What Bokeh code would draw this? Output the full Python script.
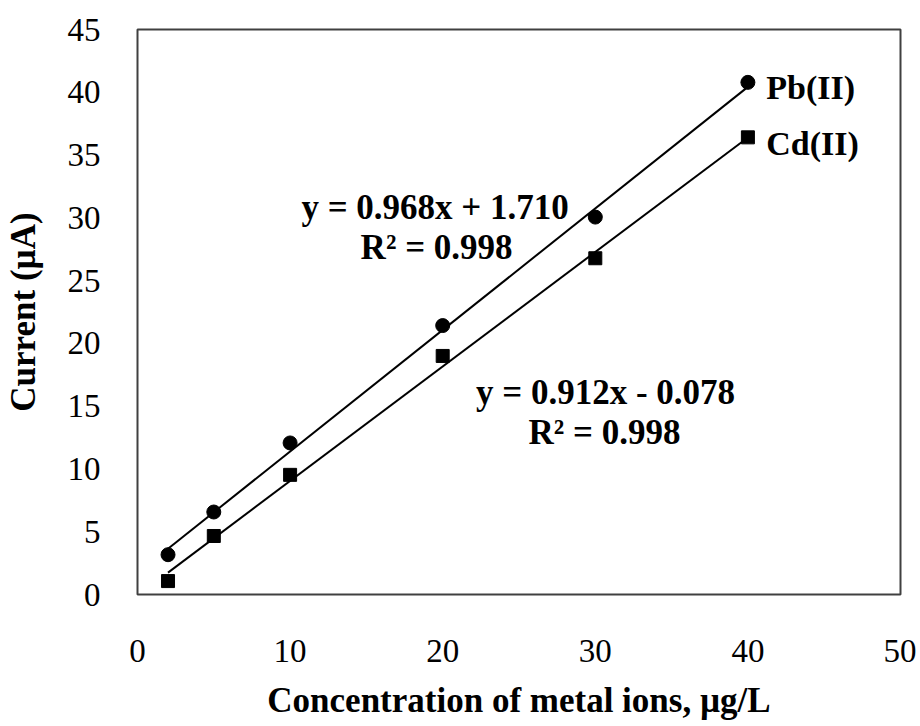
from bokeh.plotting import figure
from bokeh.models import Range1d, FixedTicker
from bokeh.embed import file_html
from bokeh.resources import INLINE
from bokeh.core.properties import value

# ---- data ----
conc = [2, 5, 10, 20, 30, 40]
pb_current = [3.17, 6.57, 12.07, 21.42, 30.06, 40.79]
cd_current = [1.07, 4.66, 9.53, 19.0, 26.78, 36.41]

fit_x = [2, 40]
pb_slope, pb_intercept = 0.968, 1.710
cd_slope, cd_intercept = 0.912, -0.078

x_ticks = [0, 10, 20, 30, 40, 50]
y_ticks = [0, 5, 10, 15, 20, 25, 30, 35, 40, 45]

pb_eq = "y = 0.968x + 1.710"
cd_eq = "y = 0.912x - 0.078"
r2_text = "R² = 0.998"
series_names = ["Pb(II)", "Cd(II)"]

FONT = "Liberation Serif"
TICK_FS = "33px"
LABEL_FS = "35px"
ANN_FS = "35px"

p = figure(width=916, height=722, output_backend="svg", toolbar_location=None,
           x_range=Range1d(0, 50), y_range=Range1d(0, 45),
           min_border_left=133, min_border_right=16, min_border_top=29, min_border_bottom=120)

p.xgrid.visible = False
p.ygrid.visible = False
p.outline_line_color = "#404040"
p.outline_line_width = 2
p.background_fill_color = "white"
p.border_fill_color = "white"

for ax, ticks in ((p.xaxis[0], x_ticks), (p.yaxis[0], y_ticks)):
    ax.ticker = FixedTicker(ticks=ticks)
    ax.axis_line_color = None
    ax.major_tick_line_color = None
    ax.minor_tick_line_color = None
    ax.major_label_text_font = FONT
    ax.major_label_text_font_size = TICK_FS
    ax.major_label_text_color = "black"
    ax.axis_label_text_font = FONT
    ax.axis_label_text_font_size = LABEL_FS
    ax.axis_label_text_font_style = "bold"
    ax.axis_label_text_color = "black"

p.xaxis.axis_label = "Concentration of metal ions, µg/L"
p.yaxis.axis_label = "Current (µA)"
p.xaxis.major_label_standoff = 39
p.yaxis.major_label_standoff = 31
p.xaxis.axis_label_standoff = 16
p.yaxis.axis_label_standoff = 22

# trendlines
p.line(fit_x, [pb_slope * x + pb_intercept for x in fit_x], line_color="black", line_width=2)
p.line(fit_x, [cd_slope * x + cd_intercept for x in fit_x], line_color="black", line_width=2)

# points
p.scatter(conc, pb_current, marker="circle", size=14, fill_color="black", line_color="black")
p.scatter(conc, cd_current, marker="square", size=13, fill_color="black", line_color="black")

# annotations
p.text(x=[19.5, 19.6, 30.67, 30.6], y=[30.86, 27.64, 16.1, 12.88],
       text=[pb_eq, r2_text, cd_eq, r2_text],
       text_font=value(FONT), text_font_size=ANN_FS, text_font_style="bold",
       text_align="center", text_baseline="alphabetic", text_color="black")
p.text(x=[41.2, 41.2], y=[40.37, 35.89], text=series_names,
       text_font=value(FONT), text_font_size="34px", text_font_style="bold",
       text_align="left", text_baseline="alphabetic", text_color="black")

open("out.html", "w").write(file_html(p, INLINE))
